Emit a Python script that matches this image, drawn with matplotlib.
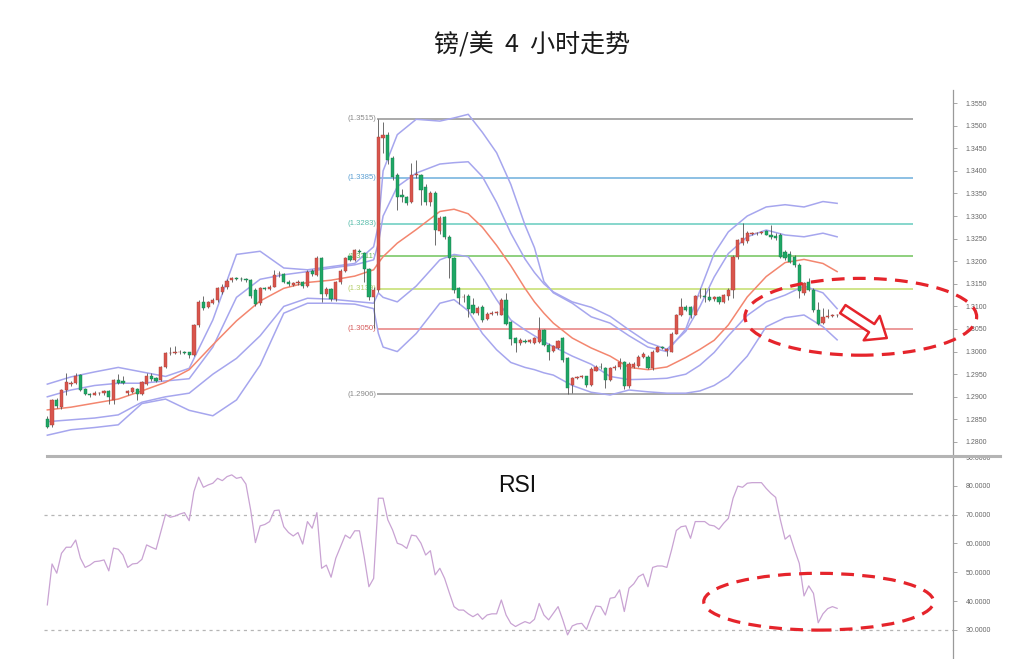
import numpy as np
import matplotlib.pyplot as plt
from matplotlib.patches import Ellipse, FancyArrowPatch
from matplotlib.lines import Line2D

# 4h candles, oldest first
opens = [
    1.2850, 1.2837, 1.2893, 1.2878, 1.2916, 1.2929, 1.2930, 1.2948, 1.2917, 1.2906,
    1.2905, 1.2908, 1.2909, 1.2913, 1.2893, 1.2937, 1.2936, 1.2909, 1.2911, 1.2917,
    1.2906, 1.2928, 1.2946, 1.2942, 1.2937, 1.2966, 1.2996, 1.2997, 1.2998, 1.3000,
    1.2998, 1.2993, 1.3058, 1.3110, 1.3099, 1.3108, 1.3114, 1.3132, 1.3142, 1.3158,
    1.3162, 1.3161, 1.3160, 1.3158, 1.3136, 1.3107, 1.3140, 1.3139, 1.3144, 1.3171,
    1.3172, 1.3155, 1.3148, 1.3151, 1.3154, 1.3145, 1.3178, 1.3170, 1.3206, 1.3128,
    1.3139, 1.3116, 1.3154, 1.3179, 1.3211, 1.3203, 1.3222, 1.3219, 1.3182, 1.3121,
    1.3137, 1.3473, 1.3479, 1.3428, 1.3391, 1.3347, 1.3342, 1.3332, 1.3390, 1.3390,
    1.3365, 1.3330, 1.3352, 1.3266, 1.3298, 1.3254, 1.3207, 1.3140, 1.3120, 1.3124,
    1.3102, 1.3085, 1.3099, 1.3073, 1.3084, 1.3085, 1.3082, 1.3114, 1.3065, 1.3030,
    1.3020, 1.3024, 1.3021, 1.3020, 1.3022, 1.3047, 1.3015, 1.3002, 1.3008, 1.3029,
    1.2985, 1.2926, 1.2942, 1.2943, 1.2945, 1.2926, 1.2958, 1.2966, 1.2964, 1.2937,
    1.2963, 1.2965, 1.2977, 1.2923, 1.2967, 1.2969, 1.2989, 1.2989, 1.2963, 1.3000,
    1.3009, 1.3002, 1.3000, 1.3040, 1.3081, 1.3099, 1.3098, 1.3082, 1.3122, 1.3122,
    1.3121, 1.3116, 1.3120, 1.3110, 1.3123, 1.3136, 1.3210, 1.3240, 1.3244, 1.3261,
    1.3262, 1.3263, 1.3266, 1.3258, 1.3256, 1.3258, 1.3220, 1.3217, 1.3210, 1.3192,
    1.3129, 1.3155, 1.3136, 1.3092, 1.3064, 1.3077, 1.3079, 1.3080,
]
highs = [
    1.2858, 1.2896, 1.2897, 1.2918, 1.2953, 1.2934, 1.2952, 1.2950, 1.2919, 1.2908,
    1.2912, 1.2911, 1.2916, 1.2916, 1.2940, 1.2950, 1.2945, 1.2914, 1.2922, 1.2919,
    1.2934, 1.2953, 1.2952, 1.2944, 1.2968, 1.2999, 1.3010, 1.3012, 1.3003, 1.3002,
    1.3000, 1.3062, 1.3115, 1.3122, 1.3112, 1.3118, 1.3143, 1.3150, 1.3160, 1.3166,
    1.3165, 1.3164, 1.3163, 1.3160, 1.3140, 1.3143, 1.3143, 1.3147, 1.3180, 1.3178,
    1.3174, 1.3158, 1.3154, 1.3158, 1.3156, 1.3180, 1.3182, 1.3212, 1.3209, 1.3142,
    1.3141, 1.3157, 1.3182, 1.3209, 1.3214, 1.3227, 1.3228, 1.3221, 1.3185, 1.3142,
    1.3515, 1.3508, 1.3485, 1.3432, 1.3395, 1.3360, 1.3345, 1.3418, 1.3425, 1.3392,
    1.3370, 1.3355, 1.3355, 1.3300, 1.3300, 1.3258, 1.3210, 1.3144, 1.3128, 1.3128,
    1.3118, 1.3100, 1.3102, 1.3088, 1.3089, 1.3090, 1.3118, 1.3130, 1.3068, 1.3033,
    1.3030, 1.3028, 1.3028, 1.3033, 1.3077, 1.3050, 1.3018, 1.3015, 1.3026, 1.3032,
    1.2988, 1.2944, 1.2946, 1.2948, 1.2947, 1.2966, 1.2970, 1.2974, 1.2967, 1.2966,
    1.2970, 1.2985, 1.2980, 1.2976, 1.2976, 1.2992, 1.3000, 1.2992, 1.3003, 1.3013,
    1.3012, 1.3008, 1.3043, 1.3084, 1.3118, 1.3103, 1.3100, 1.3126, 1.3140, 1.3140,
    1.3140, 1.3124, 1.3123, 1.3128, 1.3140, 1.3213, 1.3250, 1.3284, 1.3266, 1.3264,
    1.3265, 1.3267, 1.3268, 1.3280, 1.3262, 1.3262, 1.3224, 1.3222, 1.3214, 1.3196,
    1.3155, 1.3162, 1.3140, 1.3110, 1.3096, 1.3095, 1.3083, 1.3084,
]
lows = [
    1.2830, 1.2834, 1.2876, 1.2874, 1.2905, 1.2924, 1.2928, 1.2913, 1.2904, 1.2900,
    1.2903, 1.2905, 1.2905, 1.2885, 1.2885, 1.2928, 1.2928, 1.2905, 1.2908, 1.2893,
    1.2903, 1.2925, 1.2936, 1.2932, 1.2935, 1.2963, 1.2992, 1.2994, 1.2995, 1.2994,
    1.2985, 1.2990, 1.3055, 1.3093, 1.3096, 1.3105, 1.3110, 1.3128, 1.3139, 1.3155,
    1.3158, 1.3157, 1.3155, 1.3118, 1.3100, 1.3104, 1.3137, 1.3136, 1.3142, 1.3166,
    1.3152, 1.3146, 1.3145, 1.3148, 1.3140, 1.3142, 1.3168, 1.3168, 1.3110, 1.3124,
    1.3112, 1.3113, 1.3150, 1.3176, 1.3200, 1.3200, 1.3218, 1.3155, 1.3115, 1.3052,
    1.3132, 1.3440, 1.3415, 1.3380, 1.3313, 1.3330, 1.3325, 1.3328, 1.3385, 1.3325,
    1.3325, 1.3322, 1.3236, 1.3260, 1.3250, 1.3162, 1.3130, 1.3105, 1.3110, 1.3076,
    1.3083, 1.3082, 1.3066, 1.3070, 1.3081, 1.3082, 1.3080, 1.3058, 1.3015, 1.2998,
    1.3015, 1.3018, 1.3018, 1.3017, 1.3020, 1.3012, 1.2981, 1.2998, 1.3005, 1.2978,
    1.2906, 1.2908, 1.2939, 1.2941, 1.2922, 1.2923, 1.2956, 1.2962, 1.2919, 1.2934,
    1.2960, 1.2962, 1.2918, 1.2920, 1.2964, 1.2966, 1.2986, 1.2962, 1.2960, 1.2998,
    1.3005, 1.2990, 1.2998, 1.3038, 1.3078, 1.3090, 1.3075, 1.3080, 1.3118, 1.3110,
    1.3112, 1.3112, 1.3106, 1.3108, 1.3115, 1.3118, 1.3205, 1.3236, 1.3240, 1.3258,
    1.3259, 1.3260, 1.3257, 1.3250, 1.3248, 1.3206, 1.3202, 1.3195, 1.3188, 1.3118,
    1.3126, 1.3133, 1.3088, 1.3058, 1.3060, 1.3075, 1.3076, 1.3077,
]
closes = [
    1.2834, 1.2893, 1.2880, 1.2915, 1.2933, 1.2931, 1.2946, 1.2915, 1.2906, 1.2903,
    1.2908, 1.2909, 1.2912, 1.2899, 1.2937, 1.2931, 1.2931, 1.2912, 1.2919, 1.2906,
    1.2932, 1.2946, 1.2939, 1.2935, 1.2966, 1.2997, 1.2997, 1.2998, 1.3000, 1.2996,
    1.2992, 1.3059, 1.3110, 1.3096, 1.3109, 1.3114, 1.3140, 1.3144, 1.3157, 1.3163,
    1.3161, 1.3160, 1.3158, 1.3122, 1.3105, 1.3140, 1.3139, 1.3144, 1.3170, 1.3172,
    1.3155, 1.3149, 1.3152, 1.3155, 1.3145, 1.3177, 1.3172, 1.3206, 1.3127, 1.3138,
    1.3116, 1.3154, 1.3179, 1.3206, 1.3203, 1.3224, 1.3221, 1.3182, 1.3121, 1.3137,
    1.3475, 1.3480, 1.3425, 1.3387, 1.3343, 1.3343, 1.3328, 1.3390, 1.3393, 1.3358,
    1.3330, 1.3350, 1.3268, 1.3296, 1.3254, 1.3207, 1.3136, 1.3119, 1.3121, 1.3094,
    1.3086, 1.3096, 1.3070, 1.3084, 1.3086, 1.3088, 1.3114, 1.3062, 1.3027, 1.3020,
    1.3026, 1.3022, 1.3025, 1.3030, 1.3047, 1.3015, 1.3000, 1.3012, 1.3023, 1.2981,
    1.2920, 1.2941, 1.2943, 1.2945, 1.2926, 1.2962, 1.2966, 1.2965, 1.2937, 1.2963,
    1.2967, 1.2977, 1.2924, 1.2972, 1.2973, 1.2989, 1.2995, 1.2964, 1.3000, 1.3010,
    1.3008, 1.3005, 1.3040, 1.3081, 1.3099, 1.3093, 1.3080, 1.3123, 1.3124, 1.3120,
    1.3115, 1.3120, 1.3110, 1.3125, 1.3137, 1.3210, 1.3247, 1.3252, 1.3262, 1.3262,
    1.3263, 1.3264, 1.3259, 1.3253, 1.3251, 1.3210, 1.3206, 1.3199, 1.3192, 1.3133,
    1.3151, 1.3137, 1.3092, 1.3062, 1.3077, 1.3079, 1.3080, 1.3081,
]

rsi = [
    38.7, 52.9, 49.7, 56.6, 58.7, 58.7, 61.2, 54.9, 51.7, 52.5,
    53.7, 53.9, 54.3, 50.5, 58.4, 58.0, 56.0, 51.7, 52.9, 53.1,
    54.5, 59.5, 58.7, 58.0, 64.1, 70.1, 69.1, 69.5, 70.2, 70.7,
    67.9, 78.0, 83.0, 79.5, 80.3, 80.9, 82.6, 81.8, 83.2, 83.8,
    82.6, 83.0, 80.6, 71.6, 60.3, 66.1, 66.6, 67.6, 71.4, 71.6,
    65.8, 63.8, 62.6, 63.8, 59.8, 67.6, 65.3, 70.7, 51.4, 52.5,
    48.3, 54.9, 58.9, 62.9, 61.8, 64.4, 64.4, 55.4, 45.0, 47.9,
    75.7, 75.7, 68.2, 64.7, 60.1, 59.5, 58.3, 62.9, 62.6, 60.1,
    56.0, 57.5, 49.1, 51.4, 47.9, 42.9, 38.1, 36.9, 36.9, 35.6,
    34.6, 35.6, 33.7, 35.2, 35.6, 35.6, 40.4, 35.2, 32.3, 31.2,
    32.1, 32.9, 32.3, 33.7, 39.2, 35.2, 33.5, 35.8, 38.1, 33.5,
    28.3, 31.4, 32.1, 32.3, 30.2, 34.6, 38.3, 38.1, 35.2, 41.0,
    41.3, 43.9, 36.4, 44.5, 46.0, 48.5, 49.4, 45.0, 51.7, 52.2,
    52.2, 51.7, 57.8, 64.5, 65.8, 66.1, 61.8, 67.6, 67.6, 67.6,
    66.4, 66.1, 64.9, 67.0, 68.7, 75.7, 79.9, 79.5, 80.9, 81.1,
    81.1, 81.1, 79.1, 77.4, 76.0, 68.2, 61.5, 62.9, 57.8, 53.1,
    41.8, 45.3, 42.7, 32.5, 35.6, 37.4, 38.1, 37.5,
]

# bollinger-type bands, read at these candle positions
band_idx = [0, 5, 10, 15, 20, 25, 30, 35, 40, 45, 50, 55, 60, 65, 69, 70, 71, 74,
            78, 83, 86, 89, 92, 95, 98, 101, 103, 105, 107, 111, 115, 119, 123,
            127, 131, 135, 138, 141, 144, 148, 152, 156, 160, 164, 167]
band_upper2 = [1.2928, 1.2944, 1.2955, 1.2965, 1.2955, 1.2945, 1.2963, 1.3070, 1.3215,
               1.3222, 1.3185, 1.3181, 1.3188, 1.3195, 1.3232, 1.3280, 1.3400, 1.3480,
               1.3514, 1.3510, 1.3517, 1.3525, 1.3485, 1.3440, 1.3370, 1.3280, 1.3230,
               1.3155, 1.3130, 1.3107, 1.3077, 1.3063, 1.3035, 1.3010, 1.3000, 1.3050,
               1.3135, 1.3217, 1.3265, 1.3300, 1.3320, 1.3325, 1.3320, 1.3332, 1.3328]
band_upper1 = [1.2900, 1.2915, 1.2925, 1.2930, 1.2930, 1.2935, 1.2940, 1.3010, 1.3120,
               1.3160, 1.3170, 1.3177, 1.3185, 1.3192, 1.3203, 1.3240, 1.3300, 1.3365,
               1.3395, 1.3415, 1.3418, 1.3420, 1.3387, 1.3330, 1.3262, 1.3205, 1.3175,
               1.3150, 1.3132, 1.3110, 1.3098, 1.3078, 1.3048, 1.3020, 1.3005, 1.3045,
               1.3100, 1.3165, 1.3217, 1.3254, 1.3269, 1.3258, 1.3254, 1.3262, 1.3254]
band_mid = [1.2871, 1.2877, 1.2886, 1.2895, 1.2913, 1.2932, 1.2960, 1.3015, 1.3068,
            1.3112, 1.3140, 1.3153, 1.3158, 1.3167, 1.3181, 1.3196, 1.3210, 1.3240,
            1.3270, 1.3310, 1.3315, 1.3305, 1.3275, 1.3235, 1.3190, 1.3140, 1.3110,
            1.3085, 1.3063, 1.3030, 1.3008, 1.2990, 1.2965, 1.2960, 1.2966, 1.2987,
            1.3005, 1.3025, 1.3059, 1.3121, 1.3166, 1.3197, 1.3204, 1.3195, 1.3177]
band_lower1 = [1.2845, 1.2849, 1.2853, 1.2860, 1.2888, 1.2900, 1.2908, 1.2950, 1.2985,
               1.3035, 1.3100, 1.3118, 1.3116, 1.3111, 1.3107, 1.3130, 1.3120, 1.3110,
               1.3145, 1.3203, 1.3215, 1.3210, 1.3165, 1.3115, 1.3070, 1.3048, 1.3035,
               1.3022, 1.3011, 1.2990, 1.2972, 1.2945, 1.2938, 1.2939, 1.2941, 1.2950,
               1.2970, 1.2998, 1.3035, 1.3080, 1.3110, 1.3125, 1.3145, 1.3130, 1.3095]
band_lower2 = [1.2815, 1.2827, 1.2832, 1.2838, 1.2885, 1.2895, 1.2870, 1.2858, 1.2893,
               1.2970, 1.3085, 1.3107, 1.3107, 1.3105, 1.3095, 1.3040, 1.3010, 1.3000,
               1.3040, 1.3107, 1.3115, 1.3090, 1.3040, 1.3004, 1.2976, 1.2965, 1.2960,
               1.2953, 1.2948, 1.2925, 1.2910, 1.2904, 1.2915, 1.2911, 1.2908, 1.2908,
               1.2913, 1.2925, 1.2945, 1.2990, 1.3055, 1.3075, 1.3081, 1.3055, 1.3026]

# fibonacci retracement of the 1.2906 - 1.3515 range
fib_levels = [1.3515, 1.3385, 1.3283, 1.3211, 1.3139, 1.3050, 1.2906]
fib_line_colors = ['#a9a9a9', '#8cc0e4', '#86d6cc', '#8ed07e', '#cfe58a', '#ec9a9a', '#a9a9a9']
fib_text_colors = ['#8a8a8a', '#5b9fd3', '#55bba9', '#6cbf5c', '#b5cf6a', '#d65c5c', '#8a8a8a']
fib_start, fib_end = 70, 183

price_ticks = [1.2800, 1.2850, 1.2900, 1.2950, 1.3000, 1.3050, 1.3100, 1.3150,
               1.3200, 1.3250, 1.3300, 1.3350, 1.3400, 1.3450, 1.3500, 1.3550]
rsi_ticks = [30, 40, 50, 60, 70, 80, 90]

W, H = 1009, 659
fig = plt.figure(figsize=(W / 100, H / 100), dpi=100)
fig.patch.set_facecolor('white')

ax = fig.add_axes([44 / W, 1 - 455 / H, 909 / W, 365 / H])
rax = fig.add_axes([44 / W, 0, 909 / W, 202 / H])

x = np.arange(len(closes))
o = np.array(opens)
c = np.array(closes)
up = c >= o

# fib lines + labels
for lvl, lc, tc in zip(fib_levels, fib_line_colors, fib_text_colors):
    ax.hlines(lvl, fib_start - 0.2, fib_end, color=lc, lw=1.4, zorder=1)
    ax.text(fib_start - 0.5, lvl, f'({lvl:.4f})', ha='right', va='center',
            fontsize=5.6, color=tc, family='Liberation Sans', zorder=1.5)

# bands
for vals in [band_upper2, band_upper1, band_lower1, band_lower2]:
    ax.plot(band_idx, vals, color='#a6a6ee', lw=1.1, zorder=2)
ax.plot(band_idx, band_mid, color='#f3866f', lw=1.1, zorder=2)

# candles
ax.vlines(x, lows, highs, color='#555555', lw=0.6, zorder=3)
body_h = np.maximum(np.abs(c - o), 0.00012)
body_b = np.minimum(o, c)
ax.bar(x[up], body_h[up], bottom=body_b[up], width=0.68, color='#d9554c',
       edgecolor='#a8403a', lw=0.3, zorder=4)
ax.bar(x[~up], body_h[~up], bottom=body_b[~up], width=0.68, color='#1ea765',
       edgecolor='#177a4a', lw=0.3, zorder=4)

ax.set_xlim(-0.7, 191.5)
ax.set_ylim(1.27712, 1.35788)

# RSI panel
rax.plot(x, rsi, color='#c9a3d3', lw=0.9, zorder=3)
for lvl in [70, 30]:
    rax.axhline(lvl, color='#b5b5b5', lw=0.9, ls=(0, (2.5, 3)), zorder=1)
rax.set_xlim(-0.7, 191.5)
rax.set_ylim(19.93, 90)
rax.text(0.500, 0.86, 'RSI', transform=rax.transAxes, fontsize=16.5,
         family='Liberation Sans', ha='left', va='center', color='#111111')

for a, ticks in [(ax, price_ticks), (rax, rsi_ticks)]:
    for side in ['left', 'top', 'bottom']:
        a.spines[side].set_visible(False)
    a.spines['right'].set_color('#9a9a9a')
    a.spines['right'].set_linewidth(0.9)
    a.set_xticks([])
    a.yaxis.tick_right()
    a.set_yticks(ticks)
    a.set_yticklabels([f'{t:.4f}' for t in ticks], fontsize=5,
                      family='Liberation Sans', color='#666666')
    a.tick_params(axis='y', length=3, width=0.6, color='#9a9a9a', pad=6)
    a.set_facecolor('none')

# panel separator
fig.add_artist(Line2D([47 / W, 1000 / W], [1 - 455.5 / H, 1 - 455.5 / H],
                      color='#b4b4b4', lw=2.2))

# annotations
red = '#e5242b'
ax.add_patch(Ellipse((172.0, 1.3077), 49.0, 0.0170, fill=False, ec=red, lw=2.3,
                     ls=(0, (4, 2.6)), clip_on=False, zorder=6))
rax.add_patch(Ellipse((163.1, 39.8), 48.6, 19.7, fill=False, ec=red, lw=2.3,
                      ls=(0, (4, 2.6)), clip_on=False, zorder=6))
ax.add_patch(FancyArrowPatch((168.2, 1.3094), (177.5, 1.3030),
                             arrowstyle='simple,head_length=13,head_width=21,tail_width=7',
                             fc='white', ec=red, lw=1.8, shrinkA=0, shrinkB=0,
                             clip_on=False, zorder=6))

fig.text(532 / W, 1 - 45 / H, '镑/美  4  小时走势', ha='center', va='center',
         fontsize=18, color='#1a1a1a', family=['Noto Sans CJK SC', 'DejaVu Sans'])

plt.savefig('out.png', dpi=100)
